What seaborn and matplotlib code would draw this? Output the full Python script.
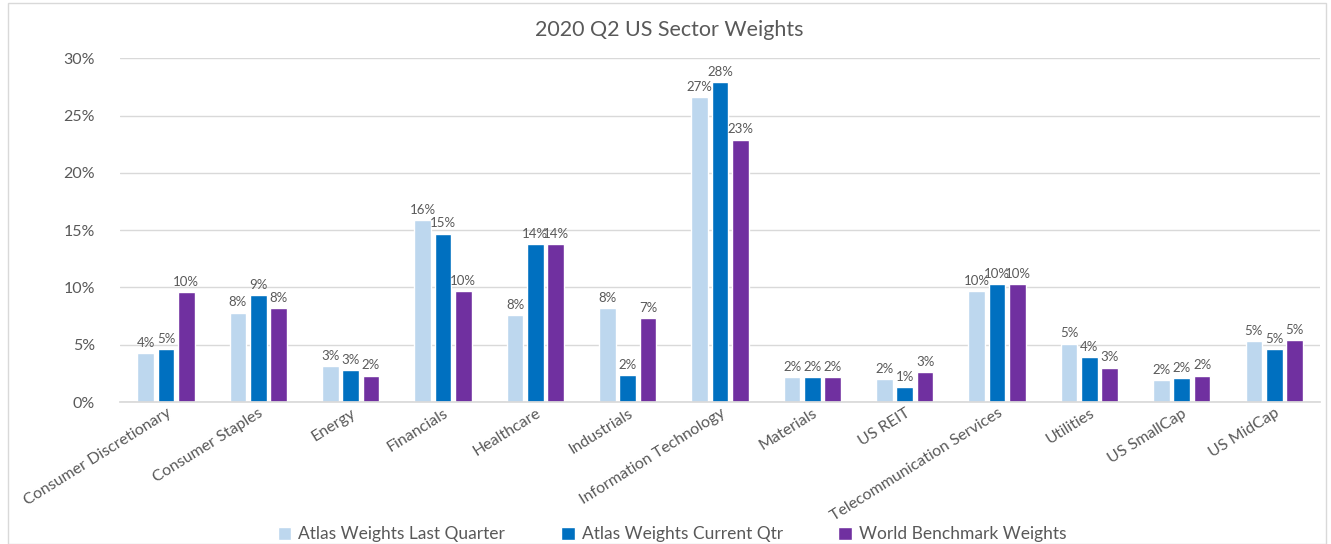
import matplotlib
matplotlib.use("Agg")
import matplotlib.pyplot as plt
import seaborn as sns
import pandas as pd
from matplotlib.ticker import FuncFormatter
from matplotlib.patches import Rectangle

categories = ["Consumer Discretionary", "Consumer Staples", "Energy", "Financials",
              "Healthcare", "Industrials", "Information Technology", "Materials",
              "US REIT", "Telecommunication Services", "Utilities", "US SmallCap", "US MidCap"]
last_quarter = [4.3, 7.8, 3.1, 15.9, 7.6, 8.2, 26.6, 2.2, 2.0, 9.7, 5.1, 1.9, 5.35]
current_qtr = [4.6, 9.3, 2.8, 14.7, 13.8, 2.35, 27.9, 2.2, 1.3, 10.3, 3.9, 2.07, 4.6]
benchmark = [9.6, 8.2, 2.3, 9.7, 13.8, 7.35, 22.9, 2.2, 2.6, 10.3, 3.0, 2.3, 5.4]
series_names = ["Atlas Weights Last Quarter", "Atlas Weights Current Qtr", "World Benchmark Weights"]
colors = ["#BDD7EE", "#0070C0", "#7030A0"]

rows = []
for name, vals in zip(series_names, [last_quarter, current_qtr, benchmark]):
    for c, v in zip(categories, vals):
        rows.append({"Sector": c, "Series": name, "Weight": v})
df = pd.DataFrame(rows)

sns.set_theme(style="white")
plt.rcParams['font.family'] = ['Lato', 'DejaVu Sans']
text_color = "#595959"

fig = plt.figure(figsize=(13.31, 5.44), dpi=100)
ax = fig.add_axes([0.09, 0.261, 0.902, 0.632])
sns.barplot(data=df, x="Sector", y="Weight", hue="Series", palette=colors,
            width=0.66, gap=0.18, ax=ax, legend=True, saturation=1)

for cont in ax.containers:
    ax.bar_label(cont, labels=[f"{round(b.get_height())}%" for b in cont],
                 padding=3, fontsize=9.5, color=text_color)

ax.set_ylim(0, 30)
ax.set_yticks(range(0, 31, 5))
ax.yaxis.set_major_formatter(FuncFormatter(lambda v, p: f"{int(v)}%"))
ax.grid(axis="y", color="#D9D9D9", linewidth=1)
ax.set_axisbelow(True)
for s in ["top", "right", "left"]:
    ax.spines[s].set_visible(False)
ax.spines["bottom"].set_color("#D9D9D9")
ax.set_xlabel("")
ax.set_ylabel("")
ax.tick_params(axis="y", labelsize=11.5, colors=text_color, length=0, pad=18)
ax.tick_params(axis="x", labelsize=11.5, colors=text_color, length=0, pad=3)
plt.setp(ax.get_xticklabels(), rotation=32, ha="right", rotation_mode="anchor")
ax.set_xlim(-0.5, len(categories) - 0.5)

fig.suptitle("2020 Q2 US Sector Weights", x=0.503, y=0.945, fontsize=15.5,
             color=text_color, va="center")

handles, labels = ax.get_legend_handles_labels()
ax.legend_.remove()
fig.legend(handles, labels, loc="center", bbox_to_anchor=(0.505, 0.018), ncol=3,
           frameon=False, fontsize=12.5, handlelength=0.8, handleheight=0.8,
           columnspacing=3.2, handletextpad=0.4, labelcolor=text_color)

fig.patches.append(Rectangle((0.006, 0.0), 0.99, 0.995, transform=fig.transFigure,
                             fill=False, edgecolor="#D9D9D9", linewidth=1))

fig.savefig("out.png", dpi=100)
